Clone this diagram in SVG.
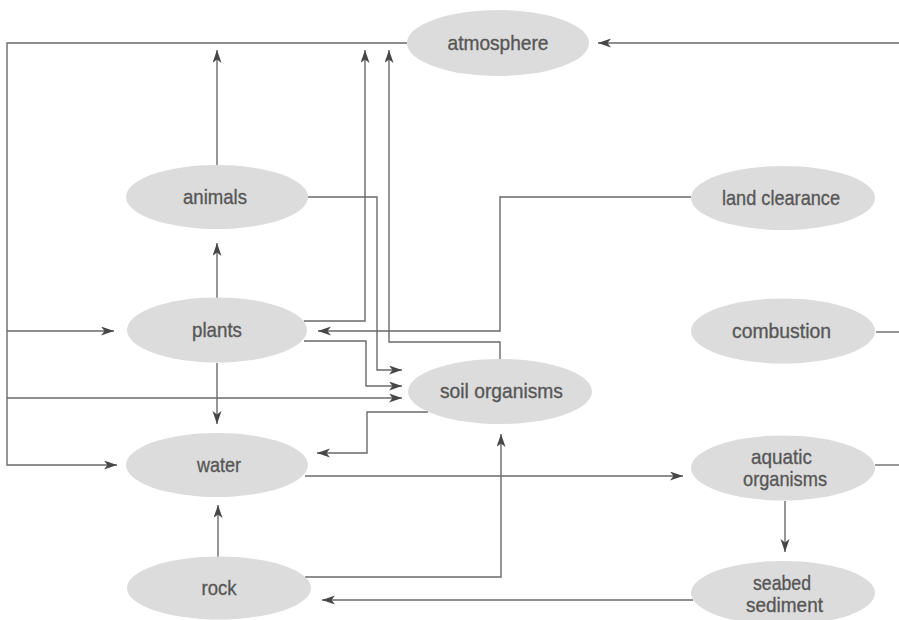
<svg xmlns="http://www.w3.org/2000/svg" width="899" height="620" viewBox="0 0 899 620">
<style>
.node ellipse{fill:#dcdcdc;stroke:none}
.node text{font-family:"Liberation Sans","Roboto",sans-serif;font-size:21px;fill:#575757;stroke:#575757;stroke-width:0.35;text-anchor:middle}
.conn path{fill:none;stroke:#6a6a6a;stroke-width:1.4}
.conn path.a{marker-end:url(#arr)}
</style>
<defs>
<marker id="arr" markerUnits="userSpaceOnUse" markerWidth="14" markerHeight="10" refX="13" refY="4.5" orient="auto">
<path d="M0,0 L13,4.5 L0,9 L3.5,4.5 Z" fill="#474747"/>
</marker>
</defs>
<rect width="899" height="620" fill="#ffffff"/>
<g id="connectors" class="conn">
<path d="M407,43 H7 V465 H117" class="a"/>
<path d="M7,331 H114" class="a"/>
<path d="M7,398 H402" class="a"/>
<path d="M899,43 H598" class="a"/>
<path d="M217,165 V50" class="a"/>
<path d="M217,298 V243" class="a"/>
<path d="M217,363 V424" class="a"/>
<path d="M218,557 V505" class="a"/>
<path d="M304,321 H365 V50" class="a"/>
<path d="M500,359 V342 H389 V50" class="a"/>
<path d="M691,197 H500 V331 H318" class="a"/>
<path d="M308,197 H377 V370 H402" class="a"/>
<path d="M304,341 H366 V386 H402" class="a"/>
<path d="M428,412 H367 V453 H317" class="a"/>
<path d="M305,476 H683" class="a"/>
<path d="M305,577 H501 V434" class="a"/>
<path d="M693,600 H322" class="a"/>
<path d="M785,501 V552" class="a"/>
<path d="M876,332 H899"/>
<path d="M875,465 H899"/>
</g>
<g id="atmosphere" class="node"><ellipse cx="498" cy="43" rx="91" ry="33"/><text x="498" y="50" textLength="101" lengthAdjust="spacingAndGlyphs">atmosphere</text></g>
<g id="animals" class="node"><ellipse cx="217" cy="197" rx="91" ry="32"/><text x="215" y="204" textLength="64" lengthAdjust="spacingAndGlyphs">animals</text></g>
<g id="plants" class="node"><ellipse cx="217" cy="330" rx="90" ry="32.5"/><text x="217" y="337" textLength="50" lengthAdjust="spacingAndGlyphs">plants</text></g>
<g id="soil-organisms" class="node"><ellipse cx="500" cy="391.5" rx="92" ry="32.5"/><text x="501.5" y="398" textLength="123" lengthAdjust="spacingAndGlyphs">soil organisms</text></g>
<g id="water" class="node"><ellipse cx="217" cy="465" rx="91" ry="32"/><text x="219" y="472" textLength="44" lengthAdjust="spacingAndGlyphs">water</text></g>
<g id="rock" class="node"><ellipse cx="219" cy="588" rx="92" ry="31.5"/><text x="219" y="595" textLength="35" lengthAdjust="spacingAndGlyphs">rock</text></g>
<g id="land-clearance" class="node"><ellipse cx="783" cy="198" rx="92" ry="32"/><text x="781" y="205" textLength="118" lengthAdjust="spacingAndGlyphs">land clearance</text></g>
<g id="combustion" class="node"><ellipse cx="783" cy="331" rx="92" ry="32.5"/><text x="781.5" y="338" textLength="99" lengthAdjust="spacingAndGlyphs">combustion</text></g>
<g id="aquatic-organisms" class="node"><ellipse cx="783" cy="468" rx="92" ry="32.5"/><text x="781.5" y="464" textLength="61" lengthAdjust="spacingAndGlyphs">aquatic</text><text x="785" y="486" textLength="84" lengthAdjust="spacingAndGlyphs">organisms</text></g>
<g id="seabed-sediment" class="node"><ellipse cx="783" cy="593" rx="92" ry="32"/><text x="782" y="590" textLength="58" lengthAdjust="spacingAndGlyphs">seabed</text><text x="784.5" y="612" textLength="77" lengthAdjust="spacingAndGlyphs">sediment</text></g>
</svg>
